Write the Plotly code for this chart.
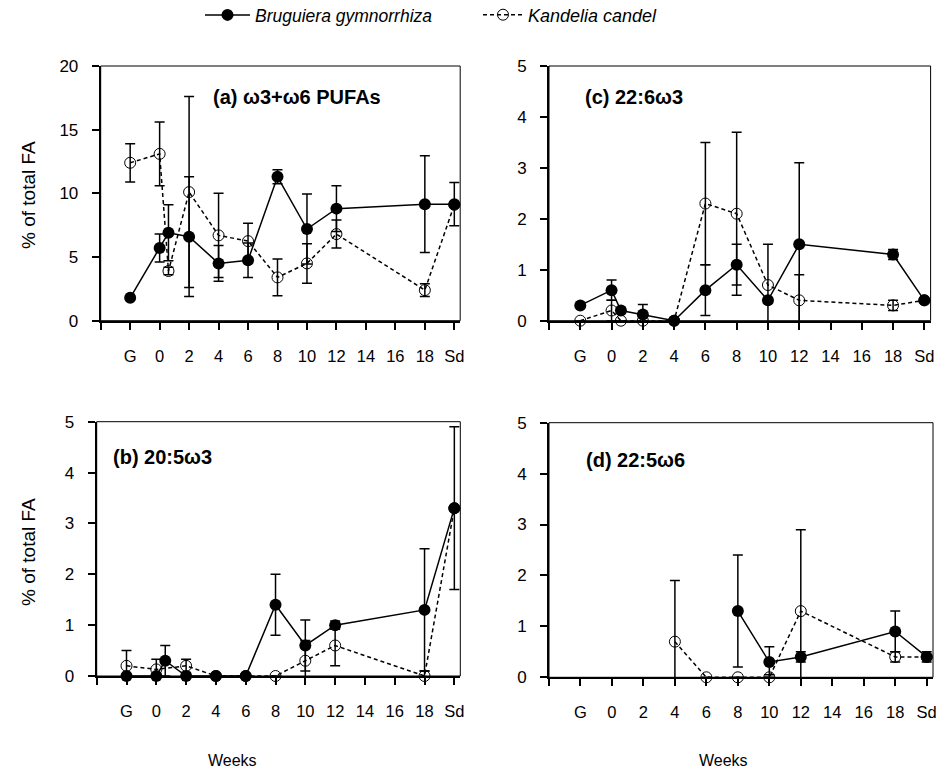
import plotly.graph_objects as go

# ---------------- data ----------------
# sampling positions on the week axis: G plotted at -2, Sd at 20, one early sample ~0.6 wk
x_pos = [-2, 0, 0.6, 2, 4, 6, 8, 10, 12, 18, 20]
tick_vals = [-4, -2, 0, 2, 4, 6, 8, 10, 12, 14, 16, 18, 20]
tick_text = ["", "G", "0", "2", "4", "6", "8", "10", "12", "14", "16", "18", "Sd"]

# (a) w3+w6 PUFAs
bg_a = [1.8, 5.7, 6.9, 6.6, 4.5, 4.75, 11.3, 7.2, 8.8, 9.15, 9.15]
bg_a_err = [None, 1.1, 2.2, 4.7, 1.4, 1.35, 0.55, 2.75, 1.8, 3.8, 1.7]
kc_a = [12.4, 13.1, 3.9, 10.1, 6.7, 6.25, 3.4, 4.5, 6.8, 2.4, 9.1]
kc_a_err = [1.5, 2.5, 0.3, 7.5, 3.3, 1.4, 1.45, 1.55, 1.1, 0.5, None]

# (c) 22:6w3
bg_c = [0.3, 0.6, 0.2, 0.12, 0, 0.6, 1.1, 0.4, 1.5, 1.3, 0.4]
bg_c_err = [None, 0.2, None, 0.2, None, 0.5, 0.4, 0.05, 1.6, 0.1, None]
kc_c = [0, 0.2, 0, 0, 0, 2.3, 2.1, 0.7, 0.4, 0.3, 0.4]
kc_c_err = [None, 0.2, None, 0.1, None, 1.2, 1.6, 0.8, 0.5, 0.1, None]

# (b) 20:5w3
bg_b = [0, 0, 0.3, 0, 0, 0, 1.4, 0.6, 1.0, 1.3, 3.3]
bg_b_err = [None, None, 0.3, None, None, None, 0.6, 0.5, 0.08, 1.2, 1.6]
kc_b = [0.2, 0.13, None, 0.2, 0, 0, 0, 0.3, 0.6, 0, 3.3]
kc_b_err = [0.3, 0.2, None, 0.13, None, None, None, 0.4, 0.4, 0.1, None]

# (d) 22:5w6
bg_d = [None, None, None, None, None, None, 1.3, 0.3, 0.4, 0.9, 0.4]
bg_d_err = [None, None, None, None, None, None, 1.1, 0.3, 0.1, 0.4, 0.1]
kc_d = [None, None, None, None, 0.7, 0, 0, 0, 1.3, 0.4, 0.4]
kc_d_err = [None, None, None, None, 1.2, None, None, 0.05, 1.6, 0.1, None]

W, H = 949, 770
panels = [
    # (axis suffix, title, bg, bg_err, kc, kc_err, y max, y dtick, x domain px, y domain px, title x px, title y px)
    ("", "(a) ω3+ω6 PUFAs", bg_a, bg_a_err, kc_a, kc_a_err, 20, 5, (100.7, 460.2), (320.7, 66), 212, 97),
    ("2", "(c) 22:6ω3", bg_c, bg_c_err, kc_c, kc_c_err, 5, 1, (549, 930.6), (320.7, 66), 584, 97),
    ("3", "(b) 20:5ω3", bg_b, bg_b_err, kc_b, kc_b_err, 5, 1, (96.7, 460.3), (676, 421.7), 112, 457),
    ("4", "(d) 22:5ω6", bg_d, bg_d_err, kc_d, kc_d_err, 5, 1, (549, 933), (677.3, 422.7), 585, 460),
]

FONT = "Liberation Sans, Arial, sans-serif"
fig = go.Figure()
layout = dict(
    width=W, height=H,
    margin=dict(l=0, r=0, t=0, b=0, autoexpand=False),
    paper_bgcolor="white", plot_bgcolor="white",
    font=dict(family=FONT, size=16, color="black"),
    showlegend=True,
    legend=dict(orientation="h", x=200 / W, y=1 - 15 / H, xanchor="left", yanchor="middle",
                font=dict(size=17.5, family=FONT), itemwidth=45, bgcolor="rgba(0,0,0,0)"),
    legend2=dict(orientation="h", x=478 / W, y=1 - 15 / H, xanchor="left", yanchor="middle",
                 font=dict(size=18, family=FONT), itemwidth=40, bgcolor="rgba(0,0,0,0)"),
    annotations=[], shapes=[],
)

for i, (sfx, title, bg, bge, kc, kce, ymax, dt, xd, yd, tx, ty) in enumerate(panels):
    xa, ya = "x" + sfx, "y" + sfx
    first = i == 0
    fig.add_trace(go.Scatter(
        x=x_pos, y=kc, xaxis=xa, yaxis=ya, mode="lines+markers",
        name="<i>Kandelia candel</i>", legend="legend2", showlegend=first, connectgaps=True,
        line=dict(color="black", width=1.5, dash="4px,3px"),
        marker=dict(symbol="circle-open", size=11, color="black", line=dict(width=1)),
        error_y=dict(type="data", array=kce, visible=True, color="black", thickness=1.5, width=5),
        cliponaxis=False,
    ))
    fig.add_trace(go.Scatter(
        x=x_pos, y=bg, xaxis=xa, yaxis=ya, mode="lines+markers",
        name="<i>Bruguiera gymnorrhiza</i>", legend="legend", showlegend=first,
        line=dict(color="black", width=1.5),
        marker=dict(symbol="circle", size=12, color="black"),
        error_y=dict(type="data", array=bge, visible=True, color="black", thickness=1.5, width=5),
        cliponaxis=False,
    ))
    layout["xaxis" + sfx] = dict(
        domain=[xd[0] / W, xd[1] / W], anchor=ya, range=[-4, 20.4], tickmode="array",
        tickvals=tick_vals, ticktext=tick_text, ticks="outside", ticklen=7, tickwidth=1.5,
        tickcolor="black", showline=True, linewidth=2, linecolor="black",
        showgrid=False, zeroline=False, ticklabelstandoff=12,
        tickfont=dict(size=16.5, family=FONT),
    )
    layout["yaxis" + sfx] = dict(
        domain=[1 - yd[0] / H, 1 - yd[1] / H], anchor=xa, range=[0, ymax], dtick=dt, tick0=0,
        ticks="outside", ticklen=7, tickwidth=1.5, tickcolor="black",
        showline=True, linewidth=2, linecolor="black",
        showgrid=False, zeroline=False, ticklabelstandoff=10,
        tickfont=dict(size=17, family=FONT),
    )
    # top/right frame of the plot area
    layout["shapes"].append(dict(type="rect", xref=xa + " domain", yref=ya + " domain",
                                 x0=0, x1=1, y0=0, y1=1, line=dict(color="black", width=1),
                                 layer="below"))
    layout["annotations"].append(dict(
        text="<b>" + title + "</b>", xref="paper", yref="paper",
        x=tx / W, y=1 - ty / H, xanchor="left", yanchor="middle", showarrow=False,
        borderpad=0, font=dict(size=20, family=FONT)))

for yy in (195, 552):
    layout["annotations"].append(dict(
        text="% of total FA", xref="paper", yref="paper", x=28 / W, y=1 - yy / H,
        textangle=-90, showarrow=False, xanchor="center", yanchor="middle",
        font=dict(size=19, family=FONT)))
for xx in (232, 723):
    layout["annotations"].append(dict(
        text="Weeks", xref="paper", yref="paper", x=xx / W, y=1 - 760 / H,
        showarrow=False, xanchor="center", yanchor="middle",
        font=dict(size=16, family=FONT)))

fig.update_layout(**layout)
fig.write_html("out.html", config={"displayModeBar": False},
               post_script="document.body.style.margin='0';document.body.style.overflow='hidden';")
